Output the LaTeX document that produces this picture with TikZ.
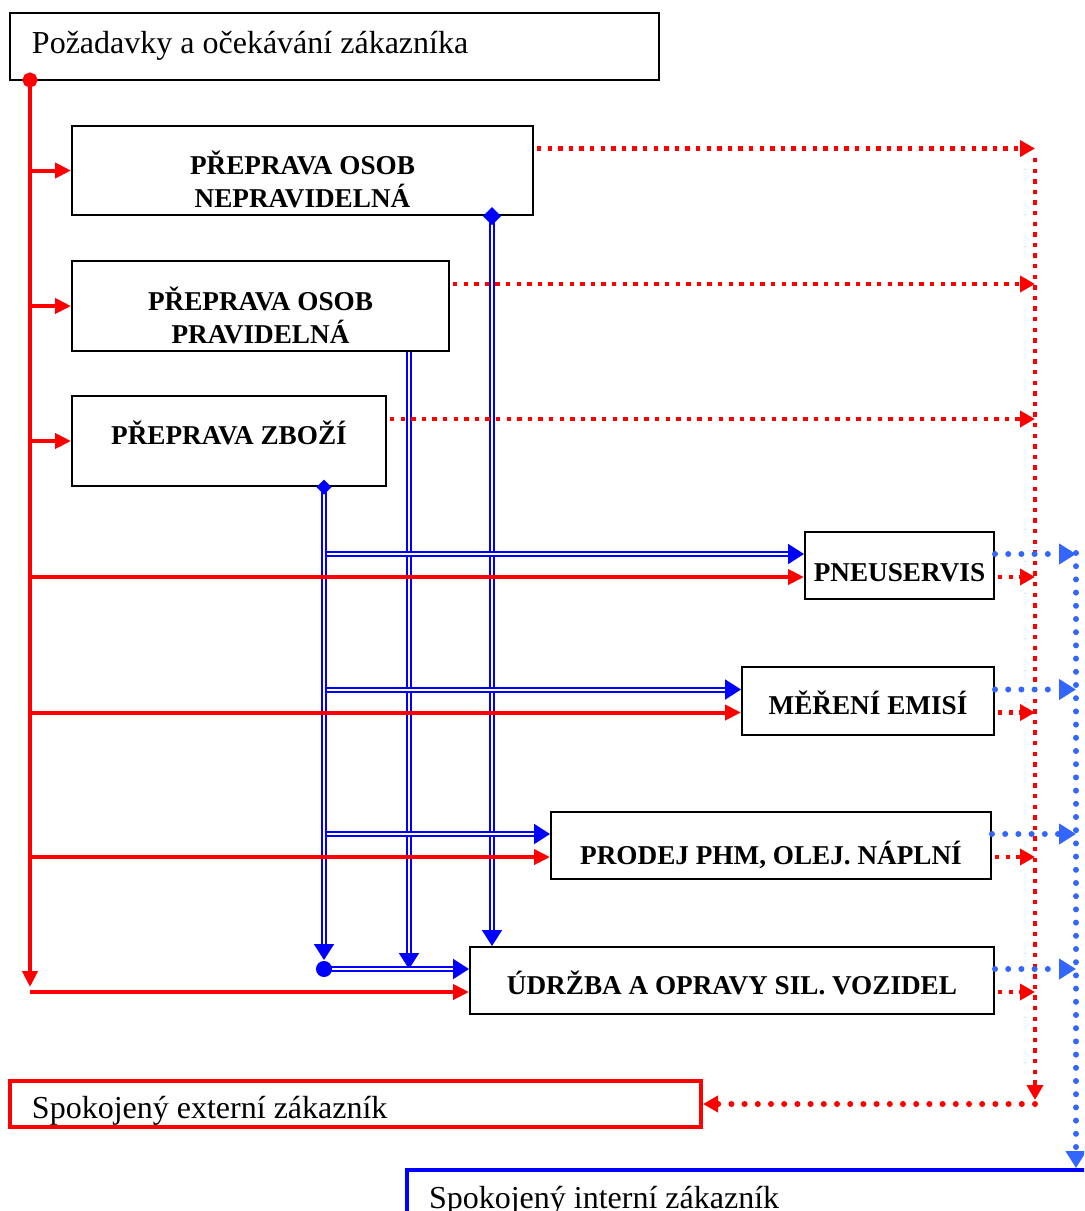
\documentclass[tikz,border=0pt]{standalone}
\usepackage{fontspec}
\setmainfont{Liberation Serif}
\usetikzlibrary{arrows.meta,calc}

\definecolor{dotblue}{RGB}{51,102,255}
% caption of a box, lowered a little inside it
\newcommand{\boxlbl}[2]{\raisebox{-#1}[\height][\depth]{\begin{tabular}{@{}c@{}}#2\end{tabular}}}
% plain caption on the left of a customer box
\newcommand{\custlbl}[2]{\raisebox{-#1}[\height][\depth]{\spaceskip=0pt\relax #2}}

\begin{document}
\begin{tikzpicture}[x=0.5pt, y=-0.5pt,
  % boxes of the single services: black, bold caps
  servbox/.style={draw, line width=1pt, inner sep=0pt,
                  font=\fontsize{13.6}{16.5}\selectfont\bfseries},
  % customer boxes: caption on the left
  custbox/.style={draw, line width=1pt, inner xsep=11pt, inner ysep=0pt, align=left,
                  font=\fontsize{16}{19}\selectfont},
  redline/.style={red, line width=2pt, -{Triangle[length=8pt,width=7.5pt]}},
  reddots/.style={red, line width=2.2pt, dash pattern=on 2.2pt off 3.1pt,
                  -{Triangle[length=7.5pt,width=8pt]}},
  redround/.style={red, line width=3pt, line cap=round, dash pattern=on 0pt off 6.6pt,
                   -{Triangle[length=7.5pt,width=8pt]}},
  bluedots/.style={dotblue, line width=3pt, line cap=round, dash pattern=on 0pt off 6.6pt,
                   -{Triangle[length=8.5pt,width=10pt]}},
  dblline/.style={blue, double=white, line width=1pt, double distance=1pt,
                  -{Triangle[length=8pt,width=10pt]}}
]
  \path[use as bounding box, clip] (0,0) rectangle (1084,1211);

  % Customer boxes
  \node[custbox, text width=302.5pt, minimum height=33.5pt] (req) at (334.5,46.5)
    {\custlbl{-0.5pt}{Požadavky a očekávání zákazníka}};
  \node[custbox, draw=red, line width=2pt, text width=323.5pt, minimum height=23pt] (ext) at (355.5,1104)
    {\custlbl{3.25pt}{Spokojený externí zákazník}};
  \node[custbox, draw=blue, line width=2pt, text width=341.5pt, minimum height=26pt] (int) at (770.5,1196)
    {\custlbl{2.5pt}{Spokojený interní zákazník}};

  % Transport (left column)
  \node[servbox, minimum width=230.5pt, minimum height=44.5pt] (nepr) at (302.5,170.5)
    {\boxlbl{7pt}{PŘEPRAVA OSOB\\NEPRAVIDELNÁ}};
  \node[servbox, minimum width=188.5pt, minimum height=45pt] (prav) at (260.5,306)
    {\boxlbl{7pt}{PŘEPRAVA OSOB\\PRAVIDELNÁ}};
  \node[servbox, minimum width=157pt, minimum height=45pt] (zbozi) at (229,441)
    {\boxlbl{-1.5pt}{PŘEPRAVA ZBOŽÍ}};

  % Services (right column)
  \node[servbox, minimum width=94.5pt, minimum height=33.5pt] (pneu) at (899.5,565.5)
    {\boxlbl{4.5pt}{PNEUSERVIS}};
  \node[servbox, minimum width=126pt, minimum height=34pt] (emise) at (868,701)
    {\boxlbl{3.5pt}{MĚŘENÍ EMISÍ}};
  \node[servbox, minimum width=220pt, minimum height=33.5pt] (phm) at (771,845.5)
    {\boxlbl{6pt}{PRODEJ PHM, OLEJ. NÁPLNÍ}};
  \node[servbox, minimum width=262pt, minimum height=33.5pt] (udrzba) at (732,980.5)
    {\boxlbl{3.5pt}{ÚDRŽBA A OPRAVY SIL. VOZIDEL}};

  % free ends of the connectors
  \coordinate (rtop)  at (30,80);
  \coordinate (rbot)  at (30,987);
  \coordinate (rvtop) at (1035,158);
  \coordinate (rvbot) at (rvtop |- ext.east);
  \coordinate (bvtop) at (1076,553);

  % --- blue double lines: internal deliveries ---
  \coordinate (d1) at ([xshift=-21pt]nepr.south east);
  \coordinate (d2) at ([xshift=-20.5pt]prav.south east);
  \coordinate (d3) at ([xshift=-31.5pt]zbozi.south east);
  \coordinate (ublue) at ([yshift=5.75pt]udrzba.west);
  \coordinate (dot) at (d3 |- ublue);
  \draw[dblline, {Diamond[length=9pt,width=9pt]}-{Triangle[length=8pt,width=10pt]}, shorten <=-4.5pt]
    (d1) -- (d1 |- udrzba.north);
  \draw[dblline] (d2) -- (d2 |- ublue);
  \draw[dblline, {Diamond[length=7.5pt,width=7.5pt]}-{Triangle[length=8pt,width=10pt]},
        shorten <=-3.75pt, shorten >=4.5pt] (d3) -- (dot);
  \foreach \b in {pneu,emise,phm}{
    \coordinate (bl) at ([yshift=5.75pt]\b.west);
    \draw[dblline] ($(d3 |- bl)+(3,0)$) -- (bl);
  }
  \draw[dblline, {Circle[length=8pt]}-{Triangle[length=8pt,width=10pt]}, shorten <=-4pt]
    (dot) -- (ublue);

  % --- red trunk: customer requirements ---
  \draw[redline, {Circle[length=7.5pt]}-{Triangle[length=8pt,width=7.5pt]}, shorten <=-3.75pt]
    (rtop) -- (rbot);
  \draw[redline] (rtop |- nepr.west) -- (nepr.west);
  \draw[redline] (rtop |- prav.west) -- (prav.west);
  \draw[redline] (rtop |- zbozi.west) -- (zbozi.west);
  \foreach \b in {pneu,emise,phm,udrzba}{
    \coordinate (rl) at ([yshift=-5.75pt]\b.west);
    \draw[redline] (rtop |- rl) -- (rl);
  }

  % --- red dotted: external customer ---
  \foreach \b in {nepr,prav,zbozi}{
    \coordinate (rr) at ($(\b.east)+(3,-22)$);
    \draw[reddots] (rr) -- (rr -| rvtop);
  }
  \foreach \b in {pneu,emise,phm,udrzba}{
    \coordinate (rr) at ($([yshift=-5.75pt]\b.east)+(3,0)$);
    \draw[reddots] (rr) -- (rr -| rvtop);
  }
  \draw[reddots, shorten >=2pt] (rvtop) -- (rvbot);
  \draw[redround] (rvbot) -- (ext.east);

  % --- blue dotted: internal customer ---
  \foreach \b in {pneu,emise,phm,udrzba}{
    \coordinate (br) at ([yshift=5.75pt]\b.east);
    \draw[bluedots] (br) -- (br -| bvtop);
  }
  \draw[bluedots] (bvtop) -- (bvtop |- int.north);
\end{tikzpicture}
\end{document}
